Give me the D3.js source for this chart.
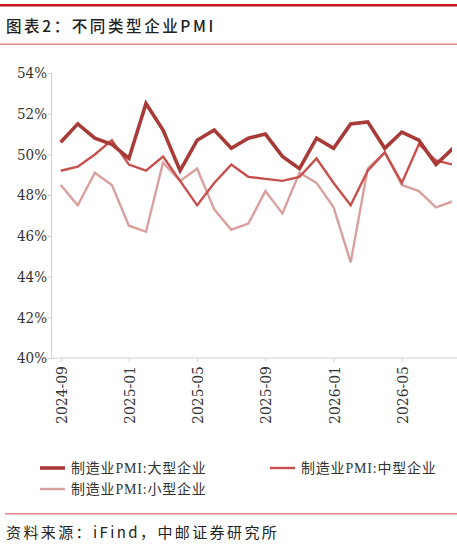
<!DOCTYPE html>
<html><head><meta charset="utf-8">
<script src="https://cdn.jsdelivr.net/npm/d3@7"></script>
<style>body{margin:0;background:#fff}svg{display:block}</style>
</head><body><div id="container"></div>
<script>
const months = ['2024-09','2024-10','2024-11','2024-12','2025-01','2025-02','2025-03','2025-04','2025-05','2025-06','2025-07','2025-08',
  '2025-09','2025-10','2025-11','2025-12','2026-01','2026-02','2026-03','2026-04','2026-05','2026-06','2026-07','2026-08'];
const tickLabels = ['2024-09','2025-01','2025-05','2025-09','2026-01','2026-05'];
const large = [50.6,51.5,50.8,50.5,49.8,52.5,51.2,49.2,50.7,51.2,50.3,50.8,51.0,49.9,49.3,50.8,50.3,51.5,51.6,50.3,51.1,50.7,49.5,50.3];
const medium = [49.2,49.4,50.0,50.7,49.5,49.2,49.9,48.7,47.5,48.6,49.5,48.9,48.8,48.7,48.9,49.8,48.6,47.5,49.2,50.1,48.6,50.5,49.7,49.5];
const small = [48.5,47.5,49.1,48.5,46.5,46.2,49.6,48.7,49.3,47.3,46.3,46.6,48.2,47.1,49.1,48.6,47.4,44.7,49.3,50.1,48.5,48.2,47.4,47.7];
const yTicks = [40,42,44,46,48,50,52,54];

const W = 457, H = 549;
const svg = d3.select('#container').append('svg').attr('width', W).attr('height', H);
const cjk = '"Noto Sans CJK SC", sans-serif';
const serif = '"DejaVu Serif Condensed", "Liberation Serif", "Noto Sans CJK SC", serif';

svg.append('rect').attr('x', 0).attr('y', 4).attr('width', W).attr('height', 2.5).attr('fill', '#c8161d');
svg.append('text').attr('x', 6).attr('y', 32).attr('font-family', cjk).attr('font-size', 15.5).attr('font-weight', 500)
  .attr('letter-spacing', 2.6).attr('fill', '#222').text('图表2：不同类型企业PMI');
svg.append('rect').attr('x', 0).attr('y', 43.5).attr('width', W).attr('height', 1.5).attr('fill', '#e08a88');

const x = d3.scalePoint().domain(months).range([60.7, 453]);
const y = d3.scaleLinear().domain([40, 54]).range([358, 73]);

svg.append('g').attr('transform', 'translate(51,0)')
  .call(d3.axisLeft(y).tickValues(yTicks).tickFormat(d => d + '%').tickSize(3))
  .call(g => g.selectAll('line,path').attr('stroke', '#d0d0d0'))
  .call(g => g.selectAll('text').attr('font-family', serif).attr('font-size', 15).attr('fill', '#333').attr('x', -4));

svg.append('g').attr('transform', 'translate(0,358)')
  .call(d3.axisBottom(x).tickValues(tickLabels).tickSize(4).tickSizeOuter(0))
  .call(g => g.select('.domain').attr('d', 'M51,0H457'))
  .call(g => g.selectAll('line,path').attr('stroke', '#d0d0d0'))
  .call(g => g.selectAll('text').attr('font-family', serif).attr('font-size', 15.5).attr('fill', '#333')
    .attr('transform', 'rotate(-90)').attr('text-anchor', 'end').attr('x', -8).attr('y', 0).attr('dy', '0.35em'));

const series = [
  {name: '制造业PMI:大型企业', values: large, color: '#a83a38', width: 3.6},
  {name: '制造业PMI:中型企业', values: medium, color: '#c8504c', width: 2.4},
  {name: '制造业PMI:小型企业', values: small, color: '#d9a09e', width: 2.4}
];
const line = d3.line().x((d, i) => x(months[i])).y(d => y(d));
const plot = svg.append('g');
plot.append('clipPath').attr('id', 'clip').append('rect').attr('x', 51).attr('y', 60).attr('width', 401).attr('height', 300);
[2, 1, 0].forEach(k => {
  const s = series[k];
  plot.append('path').datum(s.values).attr('d', line).attr('fill', 'none')
    .attr('stroke', s.color).attr('stroke-width', s.width).attr('stroke-linejoin', 'miter').attr('clip-path', 'url(#clip)');
});

const legendPos = [[40, 468], [270, 468], [40, 489]];
series.forEach((s, i) => {
  const [lx, ly] = legendPos[i];
  svg.append('line').attr('x1', lx).attr('x2', lx + 25).attr('y1', ly).attr('y2', ly)
    .attr('stroke', s.color).attr('stroke-width', s.width);
  svg.append('text').attr('x', lx + 31).attr('y', ly + 5).attr('font-family', '"Liberation Serif", "Noto Sans CJK SC", serif').attr('font-size', 14)
    .attr('letter-spacing', 0.8).attr('fill', '#333').text(s.name);
});

svg.append('rect').attr('x', 5).attr('y', 513).attr('width', W).attr('height', 1.5).attr('fill', '#e08a88');
svg.append('text').attr('x', 6).attr('y', 538).attr('font-family', cjk).attr('font-size', 15)
  .attr('letter-spacing', 2.4).attr('fill', '#222').text('资料来源：iFind，中邮证券研究所');
</script></body></html>
